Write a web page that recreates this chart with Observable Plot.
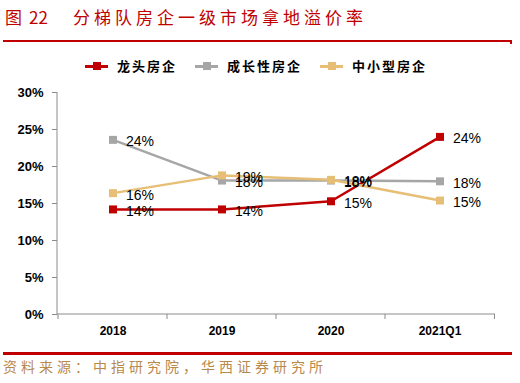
<!DOCTYPE html>
<html><head><meta charset="utf-8">
<script src="https://cdn.jsdelivr.net/npm/d3@7"></script>
<script src="https://cdn.jsdelivr.net/npm/@observablehq/plot@0.6"></script>
<style>
body{margin:0;width:520px;height:383px;position:relative;background:#fff;overflow:hidden;font-family:"Liberation Sans",Arial,sans-serif;}
#title{position:absolute;left:5px;top:4px;font-family:"Noto Sans CJK SC",sans-serif;font-size:17px;color:#C00000;white-space:pre;}
#title .num{margin-left:7px;}
#title .main{position:absolute;left:68px;top:0;letter-spacing:4px;}
#tline{position:absolute;left:3px;top:40px;width:509px;height:2px;background:#C00000;}
#tend{position:absolute;left:510px;top:40px;width:2px;height:4px;background:#C00000;}
#legend{position:absolute;top:56px;left:85px;display:flex;gap:18px;font-family:"Noto Sans CJK SC",sans-serif;font-weight:bold;font-size:13px;letter-spacing:2px;}
.item{display:flex;align-items:center;gap:9px;}
.sw{position:relative;width:23px;height:16px;}
.sw .l{position:absolute;left:0;top:7px;width:23px;height:3px;}
.sw .m{position:absolute;left:8px;top:4px;width:8px;height:8px;}
#chart{position:absolute;left:0;top:80px;}
#bline{position:absolute;left:3px;top:352px;width:509px;height:3px;background:#C00000;}
#source{position:absolute;left:3px;top:356px;font-family:"Noto Sans CJK SC",sans-serif;font-size:14px;color:#B8894A;letter-spacing:4px;}
</style></head>
<body>
<div id="title">图<span class="num">22</span><span class="main">分梯队房企一级市场拿地溢价率</span></div>
<div id="tline"></div><div id="tend"></div>
<div id="legend"></div>
<div id="chart"></div>
<div id="bline"></div>
<div id="source">资料来源：中指研究院，华西证券研究所</div>
<script>
const categories = ["2018", "2019", "2020", "2021Q1"];
const seriesNames = ["龙头房企", "成长性房企", "中小型房企"];
const seriesColors = ["#C00000", "#A6A6A6", "#E6BE76"];
const leaderValues = [14.2, 14.2, 15.3, 24.0];
const growthValues = [23.6, 18.1, 18.1, 18.0];
const smallValues = [16.4, 18.8, 18.2, 15.4];
const yTicks = [0, 5, 10, 15, 20, 25, 30];

const seriesValues = [leaderValues, growthValues, smallValues];
const data = [];
seriesNames.forEach((s, i) => categories.forEach((c, j) => data.push({series: s, cat: c, v: seriesValues[i][j]})));

// legend
const leg = document.getElementById("legend");
seriesNames.forEach((s, i) => {
  const it = document.createElement("div"); it.className = "item";
  it.innerHTML = `<div class="sw"><div class="l" style="background:${seriesColors[i]}"></div><div class="m" style="background:${seriesColors[i]}"></div></div><span>${s}</span>`;
  leg.appendChild(it);
});

const W = 520, H = 265, mL = 57, mR = 25, mT = 12, mB = 31;
const axisColor = "#8C8C8C";

function axisLines(index, scales, values, dims) {
  const g = d3.create("svg:g").attr("stroke", axisColor).attr("stroke-width", 1);
  const x = scales.x, y = scales.y;
  const step = (dims.width - dims.marginLeft - dims.marginRight) / categories.length;
  const y0 = y(0);
  g.append("line").attr("x1", dims.marginLeft).attr("x2", dims.marginLeft).attr("y1", y(30)).attr("y2", y0);
  g.append("line").attr("x1", dims.marginLeft).attr("x2", dims.width - dims.marginRight).attr("y1", y0).attr("y2", y0);
  const bounds = categories.map(c => x(c)).concat([x(categories[categories.length - 1]) + step]);
  bounds.forEach(b => g.append("line").attr("x1", b).attr("x2", b).attr("y1", y0).attr("y2", y0 + 5));
  return g.node();
}

const chart = Plot.plot({
  width: W, height: H,
  marginLeft: mL, marginRight: mR, marginTop: mT, marginBottom: mB,
  style: {fontFamily: "'Liberation Sans', Arial, sans-serif", background: "white"},
  x: {type: "band", domain: categories, padding: 0, label: null},
  y: {domain: [0, 30], label: null},
  color: {domain: seriesNames, range: seriesColors},
  marks: [
    Plot.axisY({ticks: yTicks, tickSize: 5, tickPadding: 9, tickFormat: d => d + "%", fontSize: 13, fontWeight: "bold", stroke: axisColor, color: "#000"}),
    Plot.axisX({tickSize: 0, tickPadding: 12, fontSize: 12, fontWeight: "bold", color: "#000"}),
    axisLines,
    Plot.line(data, {x: "cat", y: "v", z: "series", stroke: "series", strokeWidth: 2.5}),
    Plot.dot(data, {x: "cat", y: "v", fill: "series", symbol: "square", r: 4.5}),
    Plot.text(data, {x: "cat", y: "v", text: d => Math.round(d.v) + "%", textAnchor: "start", dx: 13, dy: 2, fontSize: 14, fill: "#000"})
  ]
});
document.getElementById("chart").appendChild(chart);
</script>
</body></html>
